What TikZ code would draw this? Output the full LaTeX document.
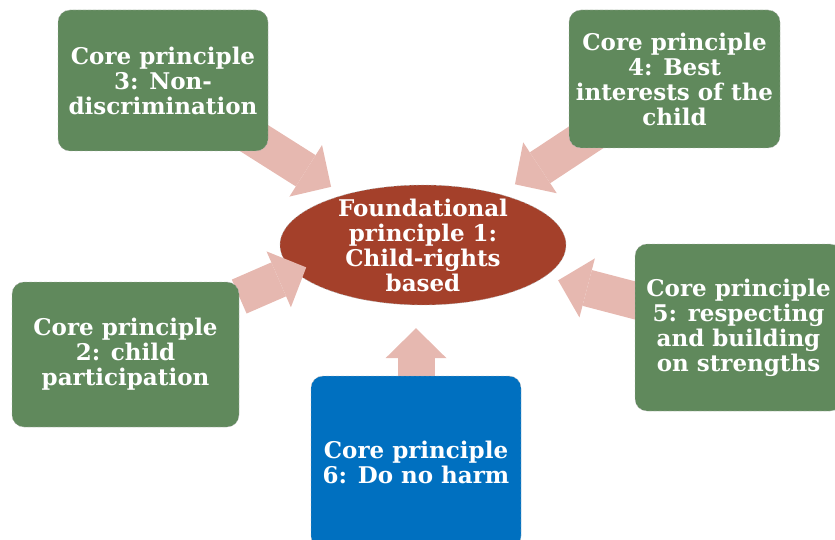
\documentclass[tikz,border=0pt]{standalone}
\usepackage{fontspec}
\setmainfont{DejaVu Serif}
\usetikzlibrary{arrows.meta}
\usetikzlibrary{shapes.geometric}
\definecolor{boxgreen}{RGB}{96,137,92}
\definecolor{hubred}{RGB}{164,64,42}
\definecolor{boxblue}{RGB}{0,112,192}
\definecolor{flowpink}{RGB}{230,184,176}
\pgfdeclarelayer{hublayer}
\pgfdeclarelayer{flowlayer}
\pgfsetlayers{hublayer,flowlayer,main}

\begin{document}
\begin{tikzpicture}[x=1pt,y=-1pt,
  principle/.style={rectangle,rounded corners=12pt,fill=boxgreen,draw=black!30,densely dashed,thin,
    text=white,align=center,inner sep=0pt,font=\bfseries\fontsize{23}{25}\selectfont},
  flow/.style={flowpink,line width=37pt,-{Triangle[length=30pt,width=61pt,line width=0pt]}}]
\useasboundingbox (0,0) rectangle (835,540);
%\fill[white] (0,0) rectangle (835,540);
\begin{pgfonlayer}{hublayer}
\node[ellipse,fill=hubred,draw=black!30,densely dashed,thin,text=white,align=center,
  font=\bfseries\fontsize{23}{25}\selectfont,minimum width=286pt,minimum height=120pt,
  inner xsep=10pt,inner ysep=-10pt] (found) at (423,245) {Foundational\\principle 1:\\Child-rights\\based};
\end{pgfonlayer}
\node[principle,minimum width=210pt,minimum height=141pt] (c3) at (163,80.5) {Core principle\\3: Non-\\discrimination};
\node[principle,minimum width=211pt,minimum height=138pt] (c4) at (674.5,79) {Core principle\\4: Best\\interests of the\\child};
\node[principle,minimum width=227pt,minimum height=145pt] (c2) at (125.5,354.5) {Core principle\\2: child\\participation};
\node[principle,minimum width=207pt,minimum height=167pt] (c5) at (738.5,327.5) {Core principle\\5: respecting\\and building\\on strengths};
\node[principle,fill=boxblue,minimum width=210pt,minimum height=172pt] (c6) at (416,462) {Core principle\\6: Do no harm};
\begin{pgfonlayer}{flowlayer}
\draw[flow,shorten >=15pt] (c3.center) -- (found);
\draw[flow,shorten >=18pt] (c4.center) -- (found);
\draw[flow,shorten >=-12pt] (c2.27) -- (found.192);
\draw[flow,shorten >=14pt] (c5.center) -- (found);
\draw[flow,shorten >=23pt] (c6) -- (c6 |- found.south);
\end{pgfonlayer}
\end{tikzpicture}
\end{document}
